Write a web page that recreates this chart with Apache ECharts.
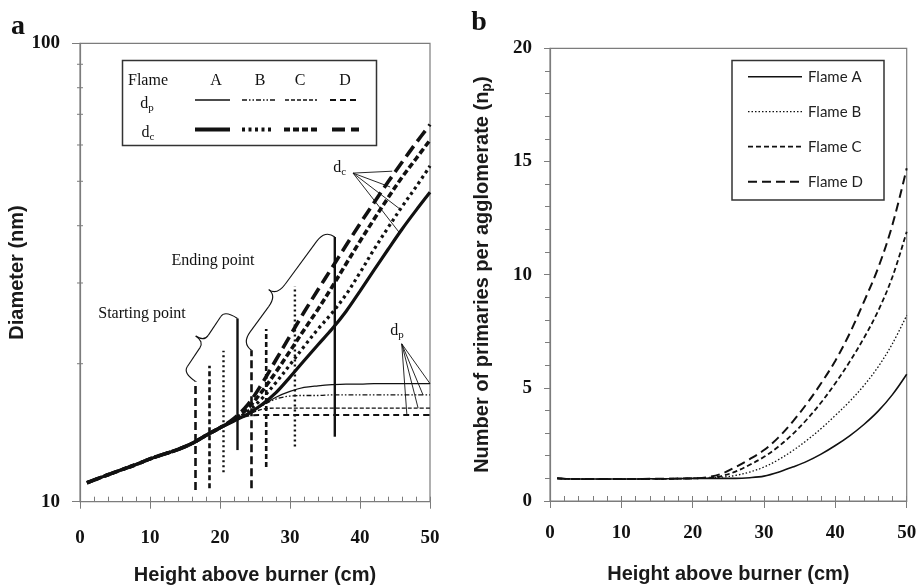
<!DOCTYPE html>
<html><head><meta charset="utf-8">
<script src="https://cdn.jsdelivr.net/npm/echarts@6/dist/echarts.min.js"></script>
<style>html,body{margin:0;padding:0;background:#fff}#c{width:920px;height:588px}</style>
</head><body><div id="c"></div>
<script>
// ---------- Panel a: diameters (nm) vs height above burner (cm) ----------
const heightA = [1,2,4,6,8,10,12,14,16,18,20,22,24,26,28,30,32,34,36,38,40,42,44,46,48,50];
const dpFlameA = [11.0,11.15,11.45,11.75,12.05,12.4,12.7,13.0,13.4,13.95,14.5,15.0,15.55,16.2,16.9,17.4,17.75,17.9,18.0,18.05,18.05,18.1,18.1,18.1,18.1,18.1];
const dpFlameB = [11.0,11.15,11.45,11.75,12.05,12.4,12.7,13.0,13.4,13.95,14.5,15.0,15.55,16.2,16.75,17.0,17.05,17.05,17.1,17.1,17.1,17.1,17.1,17.1,17.1,17.1];
const dpFlameC = [11.0,11.15,11.45,11.75,12.05,12.4,12.7,13.0,13.4,13.95,14.5,15.0,15.5,15.9,16.0,16.0,16.0,16.0,16.0,16.0,16.0,16.0,16.0,16.0,16.0,16.0];
const dpFlameD = [11.0,11.15,11.45,11.75,12.05,12.4,12.7,13.0,13.4,13.95,14.5,15.0,15.4,15.45,15.45,15.45,15.45,15.45,15.45,15.45,15.45,15.45,15.45,15.45,15.45,15.45];
const dcFlameA = [11.0,11.15,11.45,11.75,12.05,12.4,12.7,13.0,13.4,13.95,14.5,15.0,15.55,16.3,17.3,18.7,20.3,22.0,23.8,26.0,28.8,32.0,35.5,39.3,43.2,47.3];
const dcFlameB = [11.0,11.15,11.45,11.75,12.05,12.4,12.7,13.0,13.4,13.95,14.5,15.05,15.75,16.8,18.2,19.9,21.8,23.8,25.8,28.3,31.6,35.5,39.6,44.0,48.6,54.0];
const dcFlameC = [11.0,11.15,11.45,11.75,12.05,12.4,12.7,13.0,13.4,13.95,14.5,15.1,16.0,17.4,19.2,21.3,23.7,26.3,29.4,33.0,37.0,41.3,46.0,51.0,56.0,61.5];
const dcFlameD = [11.0,11.15,11.45,11.75,12.05,12.4,12.7,13.0,13.4,13.95,14.5,15.2,16.3,18.1,20.4,23.0,25.9,29.0,32.4,36.2,40.4,44.9,49.8,55.0,60.6,66.5];
// starting / ending point markers (flames A, B, C, D)
const startX    = [22.5, 20.5, 18.5, 16.5];
const startLow  = [12.96, 11.6, 10.7, 10.6];
const startHigh = [25.1, 21.35, 19.8, 18.3];
const endX      = [36.4, 30.7, 26.6, 24.5];
const endLow    = [13.86, 13.2, 11.9, 10.7];
const endHigh   = [37.8, 29.5, 23.8, 21.4];
const yTicksA = [10, 100];
const yMinorA = [20, 30, 40, 50, 60, 70, 80, 90];

// ---------- Panel b: number of primaries per agglomerate ----------
const heightB = [1,2,4,6,8,10,12,14,16,18,20,22,24,26,28,30,32,34,36,38,40,42,44,46,48,50];
const npFlameA = [1.0,0.98,0.97,0.97,0.97,0.97,0.97,0.98,0.98,0.99,1.0,1.0,1.0,1.0,1.03,1.1,1.27,1.5,1.75,2.07,2.45,2.88,3.38,3.97,4.7,5.6];
const npFlameB = [1.0,0.98,0.97,0.97,0.97,0.97,0.97,0.98,0.98,0.99,1.0,1.01,1.05,1.13,1.28,1.5,1.82,2.22,2.68,3.2,3.78,4.4,5.1,5.93,6.95,8.2];
const npFlameC = [1.0,0.98,0.97,0.97,0.97,0.97,0.97,0.98,0.98,0.99,1.0,1.02,1.1,1.3,1.6,1.95,2.4,2.95,3.6,4.35,5.2,6.15,7.2,8.4,9.9,11.9];
const npFlameD = [1.0,0.98,0.97,0.97,0.97,0.97,0.97,0.98,0.98,0.99,1.0,1.05,1.2,1.5,1.85,2.25,2.8,3.5,4.3,5.2,6.2,7.4,8.8,10.3,12.2,14.7];
const flameNames = ['Flame A', 'Flame B', 'Flame C', 'Flame D'];

const INK = '#111';
const AXIS = '#7c7c7c';
const SERIF = "'Liberation Serif', 'DejaVu Serif', serif";
const SANS = "'Liberation Sans', Arial, sans-serif";

const pairs = (xs, ys) => xs.map((x, i) => [x, ys[i]]);

function curve(name, xs, ys, width, dash, xi, yi, z) {
  return {
    name, type: 'line', xAxisIndex: xi, yAxisIndex: yi, data: pairs(xs, ys),
    symbol: 'none', smooth: 0.35, z: z || 3, silent: true,
    lineStyle: { color: INK, width, type: dash || 'solid' }
  };
}
function vmark(x, lo, hi, width, dash) {
  return {
    type: 'line', xAxisIndex: 0, yAxisIndex: 0, data: [[x, lo], [x, hi]],
    symbol: 'none', z: 5, silent: true,
    lineStyle: { color: INK, width, type: dash || 'solid' }
  };
}

const dpStyles = [[1.3, 'solid'], [1.3, [5, 2, 1.5, 2, 1.5, 2]], [1.4, [4, 2]], [2.0, [6, 4]]];
const dcStyles = [[3.2, 'solid'], [3.2, [3, 3.5]], [3.6, [6, 3]], [3.6, [13, 6]]];
const markStyles = [[2.4, 'solid'], [2.4, [2, 3]], [2.6, [5, 3]], [2.6, [8, 4]]];
const npStyles = [[1.6, 'solid'], [1.3, [1.5, 2]], [1.8, [5, 3]], [2.0, [9, 5]]];

const dpData = [dpFlameA, dpFlameB, dpFlameC, dpFlameD];
const dcData = [dcFlameA, dcFlameB, dcFlameC, dcFlameD];
const npData = [npFlameA, npFlameB, npFlameC, npFlameD];

const series = [];
dpData.forEach((d, i) => series.push(curve('dp ' + flameNames[i], heightA, d, dpStyles[i][0], dpStyles[i][1], 0, 0)));
dcData.forEach((d, i) => series.push(curve('dc ' + flameNames[i], heightA, d, dcStyles[i][0], dcStyles[i][1], 0, 0, 4)));
startX.forEach((x, i) => series.push(vmark(x, startLow[i], startHigh[i], markStyles[i][0], markStyles[i][1])));
endX.forEach((x, i) => series.push(vmark(x, endLow[i], endHigh[i], markStyles[i][0], markStyles[i][1])));
npData.forEach((d, i) => series.push(curve(flameNames[i], heightB, d, npStyles[i][0], npStyles[i][1], 2, 1)));

const tickLabel = { fontFamily: SERIF, fontWeight: 'bold', fontSize: 19, color: INK };
const nameStyle = { fontFamily: SANS, fontWeight: 'bold', fontSize: 20, color: '#1a1a1a' };

const option = {
  animation: false,
  backgroundColor: '#fff',
  grid: [
    { left: 80, right: 490, top: 43.3, bottom: 86.3, outerBoundsMode: 'none', containLabel: false,
      show: true, borderColor: AXIS, borderWidth: 1.2, backgroundColor: 'transparent' },
    { left: 550, right: 13.3, top: 48.3, bottom: 87, outerBoundsMode: 'none', containLabel: false,
      show: true, borderColor: AXIS, borderWidth: 1.2, backgroundColor: 'transparent' }
  ],
  xAxis: [
    { type: 'value', gridIndex: 0, position: 'bottom', min: 0, max: 50, interval: 10,
      axisLine: { lineStyle: { color: AXIS, width: 1.2 } },
      axisTick: { length: 7, lineStyle: { color: AXIS } },
      axisLabel: Object.assign({ margin: 27 }, tickLabel), splitLine: { show: false },
      name: 'Height above burner (cm)', nameLocation: 'middle', nameGap: 64, nameTextStyle: nameStyle },
    { type: 'value', gridIndex: 0, position: 'bottom', min: 0, max: 50, interval: 2,
      axisLine: { show: false }, axisLabel: { show: false }, splitLine: { show: false },
      axisTick: { inside: true, length: 5, lineStyle: { color: AXIS } } },
    { type: 'value', gridIndex: 1, position: 'bottom', min: 0, max: 50, interval: 10,
      axisLine: { lineStyle: { color: AXIS, width: 1.2 } },
      axisTick: { length: 7, lineStyle: { color: AXIS } },
      axisLabel: Object.assign({ margin: 23 }, tickLabel), splitLine: { show: false },
      name: 'Height above burner (cm)', nameLocation: 'middle', nameGap: 63, nameTextStyle: nameStyle },
    { type: 'value', gridIndex: 1, position: 'bottom', min: 0, max: 50, interval: 2,
      axisLine: { show: false }, axisLabel: { show: false }, splitLine: { show: false },
      axisTick: { inside: true, length: 5, lineStyle: { color: AXIS } } }
  ],
  yAxis: [
    { type: 'log', logBase: 10, gridIndex: 0, min: yTicksA[0], max: yTicksA[1],
      axisLine: { show: true, lineStyle: { color: AXIS, width: 1.2 } },
      axisTick: { show: true, length: 8, lineStyle: { color: AXIS } },
      minorTick: { show: false },
      axisLabel: Object.assign({ margin: 20 }, tickLabel), splitLine: { show: false },
      name: 'Diameter (nm)', nameLocation: 'middle', nameGap: 33, nameRotate: 90, nameTextStyle: nameStyle },
    { type: 'value', gridIndex: 1, min: 0, max: 20, interval: 5,
      axisLine: { show: true, lineStyle: { color: AXIS, width: 1.2 } },
      axisTick: { show: true, length: 6, lineStyle: { color: AXIS } },
      minorTick: { show: true, splitNumber: 5, length: 5, lineStyle: { color: AXIS } },
      axisLabel: Object.assign({ margin: 18 }, tickLabel), splitLine: { show: false }, minorSplitLine: { show: false },
      name: '{m|Number of primaries per agglomerate (n}{s|p}{m|)}', nameLocation: 'middle', nameGap: 56, nameRotate: 90,
      nameTextStyle: Object.assign({}, nameStyle, { rich: {
        m: { fontFamily: SANS, fontWeight: 'bold', fontSize: 20, color: '#1a1a1a' },
        s: { fontFamily: SANS, fontWeight: 'bold', fontSize: 14, color: '#1a1a1a', padding: [10, 0, 0, 0] } } }) }
  ],
  series
};

const chart = echarts.init(document.getElementById('c'));
chart.setOption(option);

// ---------- annotations (positioned through the panel-a scales) ----------
const P = (x, y) => chart.convertToPixel({ xAxisIndex: 0, yAxisIndex: 0 }, [x, y]);
const g = [];
const line = (x1, y1, x2, y2, w, dash, color) => g.push({ type: 'line', z: 50, silent: true,
  shape: { x1, y1, x2, y2 }, style: { stroke: color || INK, lineWidth: w, lineDash: dash || null } });
const text = (x, y, t, opts) => g.push({ type: 'text', z: 50, silent: true, x, y,
  style: Object.assign({ text: t, fill: INK, align: 'center', verticalAlign: 'middle', font: '16px ' + SERIF }, opts || {}) });
const quad = (a, c, b) => g.push({ type: 'bezierCurve', z: 50, silent: true,
  shape: { x1: a[0], y1: a[1], x2: b[0], y2: b[1], cpx1: c[0], cpy1: c[1] }, style: { fill: null, stroke: INK, lineWidth: 1.1 } });

// minor ticks of log axis
yMinorA.forEach(v => { const p = P(0, v); line(p[0] - 3, p[1], p[0] + 3, p[1], 1, null, AXIS); });

// curly brace from lower point a to upper point b, opening towards the upper-left
function brace(a, b, h, k, tipAt) {
  const dx = b[0] - a[0], dy = b[1] - a[1];
  const L = Math.sqrt(dx * dx + dy * dy);
  const u = [dx / L, dy / L], n = [u[1], -u[0]];
  const pt = (s, t) => [a[0] + u[0] * s * L + n[0] * t, a[1] + u[1] * s * L + n[1] * t];
  const m = tipAt;
  quad(pt(0, 0), pt(0, h), pt(0.1, h));
  line(...pt(0.1, h), ...pt(m - 0.1, h), 1.1);
  quad(pt(m - 0.1, h), pt(m, h), pt(m, h + k));
  quad(pt(m, h + k), pt(m, h), pt(m + 0.1, h));
  line(...pt(m + 0.1, h), ...pt(0.9, h), 1.1);
  quad(pt(0.9, h), pt(1, h), pt(1, 0));
}
brace(P(startX[3], startHigh[3]), P(startX[0], startHigh[0]), 15, 10, 0.5);
brace(P(endX[3], endHigh[3]), P(endX[0], endHigh[0]), 12, 10, 0.42);

let p = P(8.86, 25.7); text(p[0], p[1], 'Starting point');
p = P(19.0, 33.6); text(p[0], p[1], 'Ending point');

const richSub = { d: { font: '16px ' + SERIF, fill: INK },
                  s: { font: '11px ' + SERIF, fill: INK, padding: [9, 0, 0, 0] } };
const subText = (x, y, t) => g.push({ type: 'text', z: 50, silent: true, x, y,
  style: { text: t, rich: richSub, align: 'center', verticalAlign: 'middle' } });
p = P(37.1, 53.6); subText(p[0], p[1], '{d|d}{s|c}');
p = P(45.3, 23.6); subText(p[0], p[1], '{d|d}{s|p}');

const dcLeaderFrom = [39.0, 52.1];
const dcLeaderTo = [[44.6, 52.6], [44.3, 48.6], [45.7, 43.5], [45.7, 38.5]];
const dpLeaderFrom = [45.96, 22.1];
const dpLeaderTo = [[50, 18.1], [49, 17.1], [48.3, 16.0], [46.7, 15.45]];
let o = P(dcLeaderFrom[0], dcLeaderFrom[1]);
dcLeaderTo.forEach(t => { const q = P(t[0], t[1]); line(o[0], o[1], q[0], q[1], 0.9); });
o = P(dpLeaderFrom[0], dpLeaderFrom[1]);
dpLeaderTo.forEach(t => { const q = P(t[0], t[1]); line(o[0], o[1], q[0], q[1], 0.9); });

// panel a legend
g.push({ type: 'rect', z: 40, silent: true, shape: { x: 122.5, y: 60.5, width: 254, height: 85 },
  style: { fill: '#fff', stroke: '#333', lineWidth: 1.5 } });
text(148, 81, 'Flame');
['A', 'B', 'C', 'D'].forEach((t, i) => text([216, 260, 300, 345][i], 81, t));
subText(147, 104, '{d|d}{s|p}');
subText(148, 133, '{d|d}{s|c}');
const legX = [[195, 230], [242, 275], [285, 317], [330, 360]];
const legXc = [[195, 230], [242, 273], [284, 320], [332, 359]];
dpStyles.forEach((s, i) => line(legX[i][0], 100, legX[i][1], 100, s[0], Array.isArray(s[1]) ? s[1] : null));
dcStyles.forEach((s, i) => line(legXc[i][0], 129.5, legXc[i][1], 129.5, s[0] + 0.6, Array.isArray(s[1]) ? s[1] : null));

// panel b legend
g.push({ type: 'rect', z: 40, silent: true, shape: { x: 732, y: 60.5, width: 152, height: 139.5 },
  style: { fill: '#fff', stroke: '#333', lineWidth: 1.5 } });
[76.7, 111.7, 146.7, 181.7].forEach((y, i) => {
  line(748, y, 802, y, npStyles[i][0], Array.isArray(npStyles[i][1]) ? npStyles[i][1] : null);
  text(808, y, flameNames[i], { align: 'left', font: "15px Lato, 'Open Sans', sans-serif", fill: '#222' });
});

// panel letters
text(18, 27, 'a', { font: 'bold 28px ' + SERIF, align: 'center' });
text(479, 23, 'b', { font: 'bold 28px ' + SERIF, align: 'center' });

chart.setOption({ graphic: g });
</script>
</body></html>
